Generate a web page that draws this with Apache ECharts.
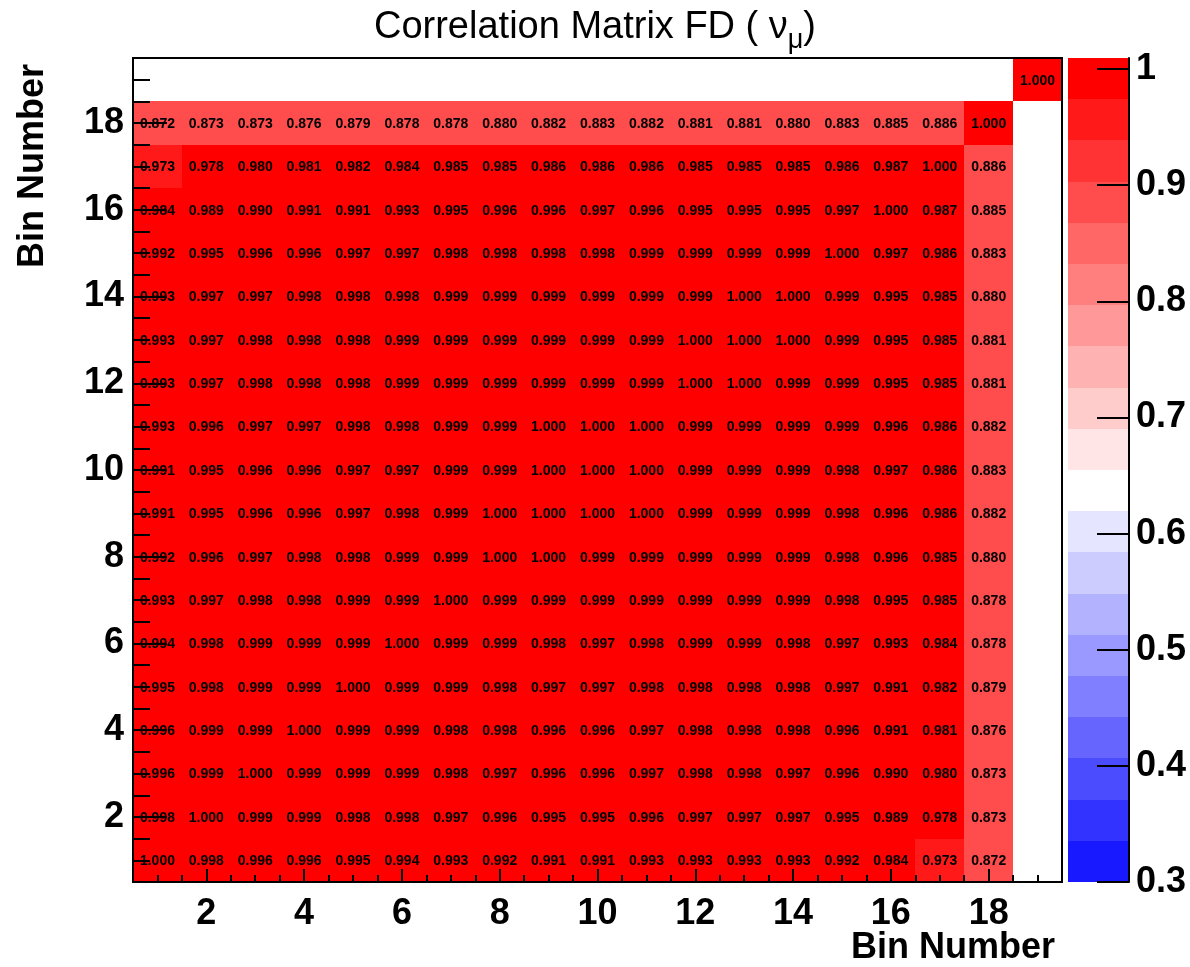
<!DOCTYPE html>
<html>
<head>
<meta charset="utf-8">
<title>Correlation Matrix FD</title>
<script src="https://cdn.jsdelivr.net/npm/echarts@6/dist/echarts.min.js"></script>
<style>
  html, body { margin: 0; padding: 0; background: #ffffff; }
  #chart { width: 1190px; height: 967px; }
</style>
</head>
<body>
<div id="chart"></div>
<script>
// Bin numbers along both axes
const bins = [1, 2, 3, 4, 5, 6, 7, 8, 9, 10, 11, 12, 13, 14, 15, 16, 17, 18, 19];

// Correlation coefficients, one array per y bin (bin 1 at the bottom); null = empty cell
const row01 = [1.000, 0.998, 0.996, 0.996, 0.995, 0.994, 0.993, 0.992, 0.991, 0.991, 0.993, 0.993, 0.993, 0.993, 0.992, 0.984, 0.973, 0.872, null];
const row02 = [0.998, 1.000, 0.999, 0.999, 0.998, 0.998, 0.997, 0.996, 0.995, 0.995, 0.996, 0.997, 0.997, 0.997, 0.995, 0.989, 0.978, 0.873, null];
const row03 = [0.996, 0.999, 1.000, 0.999, 0.999, 0.999, 0.998, 0.997, 0.996, 0.996, 0.997, 0.998, 0.998, 0.997, 0.996, 0.990, 0.980, 0.873, null];
const row04 = [0.996, 0.999, 0.999, 1.000, 0.999, 0.999, 0.998, 0.998, 0.996, 0.996, 0.997, 0.998, 0.998, 0.998, 0.996, 0.991, 0.981, 0.876, null];
const row05 = [0.995, 0.998, 0.999, 0.999, 1.000, 0.999, 0.999, 0.998, 0.997, 0.997, 0.998, 0.998, 0.998, 0.998, 0.997, 0.991, 0.982, 0.879, null];
const row06 = [0.994, 0.998, 0.999, 0.999, 0.999, 1.000, 0.999, 0.999, 0.998, 0.997, 0.998, 0.999, 0.999, 0.998, 0.997, 0.993, 0.984, 0.878, null];
const row07 = [0.993, 0.997, 0.998, 0.998, 0.999, 0.999, 1.000, 0.999, 0.999, 0.999, 0.999, 0.999, 0.999, 0.999, 0.998, 0.995, 0.985, 0.878, null];
const row08 = [0.992, 0.996, 0.997, 0.998, 0.998, 0.999, 0.999, 1.000, 1.000, 0.999, 0.999, 0.999, 0.999, 0.999, 0.998, 0.996, 0.985, 0.880, null];
const row09 = [0.991, 0.995, 0.996, 0.996, 0.997, 0.998, 0.999, 1.000, 1.000, 1.000, 1.000, 0.999, 0.999, 0.999, 0.998, 0.996, 0.986, 0.882, null];
const row10 = [0.991, 0.995, 0.996, 0.996, 0.997, 0.997, 0.999, 0.999, 1.000, 1.000, 1.000, 0.999, 0.999, 0.999, 0.998, 0.997, 0.986, 0.883, null];
const row11 = [0.993, 0.996, 0.997, 0.997, 0.998, 0.998, 0.999, 0.999, 1.000, 1.000, 1.000, 0.999, 0.999, 0.999, 0.999, 0.996, 0.986, 0.882, null];
const row12 = [0.993, 0.997, 0.998, 0.998, 0.998, 0.999, 0.999, 0.999, 0.999, 0.999, 0.999, 1.000, 1.000, 0.999, 0.999, 0.995, 0.985, 0.881, null];
const row13 = [0.993, 0.997, 0.998, 0.998, 0.998, 0.999, 0.999, 0.999, 0.999, 0.999, 0.999, 1.000, 1.000, 1.000, 0.999, 0.995, 0.985, 0.881, null];
const row14 = [0.993, 0.997, 0.997, 0.998, 0.998, 0.998, 0.999, 0.999, 0.999, 0.999, 0.999, 0.999, 1.000, 1.000, 0.999, 0.995, 0.985, 0.880, null];
const row15 = [0.992, 0.995, 0.996, 0.996, 0.997, 0.997, 0.998, 0.998, 0.998, 0.998, 0.999, 0.999, 0.999, 0.999, 1.000, 0.997, 0.986, 0.883, null];
const row16 = [0.984, 0.989, 0.990, 0.991, 0.991, 0.993, 0.995, 0.996, 0.996, 0.997, 0.996, 0.995, 0.995, 0.995, 0.997, 1.000, 0.987, 0.885, null];
const row17 = [0.973, 0.978, 0.980, 0.981, 0.982, 0.984, 0.985, 0.985, 0.986, 0.986, 0.986, 0.985, 0.985, 0.985, 0.986, 0.987, 1.000, 0.886, null];
const row18 = [0.872, 0.873, 0.873, 0.876, 0.879, 0.878, 0.878, 0.880, 0.882, 0.883, 0.882, 0.881, 0.881, 0.880, 0.883, 0.885, 0.886, 1.000, null];
const row19 = [null, null, null, null, null, null, null, null, null, null, null, null, null, null, null, null, null, null, 1.000];
const rows = [row01, row02, row03, row04, row05, row06, row07, row08, row09, row10,
              row11, row12, row13, row14, row15, row16, row17, row18, row19];

// Axis tick labels
const binTickLabels = [2, 4, 6, 8, 10, 12, 14, 16, 18];
const colorTickLabels = [0.3, 0.4, 0.5, 0.6, 0.7, 0.8, 0.9, 1];

// Colour scale: range and 20 contour colours, lowest first
const zMin = 0.3;
const zMax = 1.0095;
const palette = [
  '#1919ff', '#3333ff', '#4c4cff', '#6666ff', '#7f7fff', '#9999ff', '#b2b2ff', '#ccccff', '#e5e5ff',
  '#ffffff',
  '#ffe5e5', '#ffcccc', '#ffb2b2', '#ff9999', '#ff7f7f', '#ff6666', '#ff4c4c', '#ff3333', '#ff1919', '#ff0000'
];

// ---- derived structures ----
const FONT = '"Liberation Sans", Arial, Helvetica, sans-serif';
const nBands = palette.length;
const bandWidth = (zMax - zMin) / nBands;
const bands = palette.map((c, i) => [zMin + i * bandWidth, zMin + (i + 1) * bandWidth, i]);
const pieces = bands.map(([lo, hi, i]) =>
  i === nBands - 1 ? { gte: lo, lte: hi, color: palette[i] } : { gte: lo, lt: hi, color: palette[i] });

const cells = [];
rows.forEach((r, yi) => r.forEach((v, xi) => {
  if (v !== null) cells.push([bins[xi], bins[yi], v]);
}));

const lo = bins[0] - 0.5, hi = bins[bins.length - 1] + 0.5;
const halfSteps = [];
for (let k = 0; k <= (hi - lo) * 2; k++) halfSteps.push(lo + k * 0.5);

const labelStyle = { fontFamily: FONT, fontSize: 36, fontWeight: 'bold', color: '#000' };
const blackLine = { color: '#000', width: 2 };

// Cell rectangle snapped to whole pixels so neighbouring cells meet without seams
function renderCell(params, api) {
  const x = api.value(0), y = api.value(1), v = api.value(2);
  const p0 = api.coord([x - 0.5, y + 0.5]);
  const p1 = api.coord([x + 0.5, y - 0.5]);
  const x0 = Math.round(p0[0]), y0 = Math.round(p0[1]);
  const x1 = Math.round(p1[0]), y1 = Math.round(p1[1]);
  return {
    type: 'group',
    children: [
      {
        type: 'rect',
        shape: { x: x0, y: y0, width: x1 - x0, height: y1 - y0 },
        style: { fill: api.visual('color') }
      },
      {
        type: 'text',
        x: (p0[0] + p1[0]) / 2,
        y: (p0[1] + p1[1]) / 2 + 1,
        z2: 5,
        style: {
          text: v.toFixed(3), align: 'center', verticalAlign: 'middle',
          fontFamily: FONT, fontSize: 14, fontWeight: 'bold', fill: '#000'
        }
      }
    ]
  };
}

function renderBand(params, api) {
  const p0 = api.coord([0, api.value(1)]);
  const p1 = api.coord([1, api.value(0)]);
  const y0 = Math.round(p0[1]), y1 = Math.round(p1[1]);
  return {
    type: 'rect',
    shape: { x: p0[0], y: y0, width: p1[0] - p0[0], height: y1 - y0 },
    style: { fill: palette[api.value(2)] }
  };
}

const chart = echarts.init(document.getElementById('chart'), null, { renderer: 'canvas' });

chart.setOption({
  animation: false,
  backgroundColor: '#ffffff',
  title: {
    left: 'center',
    top: 0,
    text: '{a|Correlation Matrix FD ( ν}{s|μ}{a|)}',
    textStyle: {
      fontWeight: 'normal',
      rich: {
        a: { fontFamily: FONT, fontSize: 38, fontWeight: 'normal', color: '#000', lineHeight: 46, verticalAlign: 'middle' },
        s: { fontFamily: FONT, fontSize: 27, fontWeight: 'normal', color: '#000', lineHeight: 27, verticalAlign: 'bottom', padding: [0, 0, -3, 0] }
      }
    }
  },
  grid: [
    { left: 133, top: 58, width: 929, height: 824, show: true, borderColor: '#000', borderWidth: 2,
      backgroundColor: 'transparent', z: 10 },
    { left: 1068, top: 58, width: 61, height: 824 }
  ],
  visualMap: {
    type: 'piecewise',
    show: false,
    seriesIndex: 0,
    dimension: 2,
    pieces: pieces
  },
  xAxis: [
    {
      gridIndex: 0, type: 'value', min: lo, max: hi, position: 'bottom', z: 10,
      axisLine: { show: true, onZero: false, lineStyle: blackLine },
      axisTick: { show: true, inside: true, length: 7, lineStyle: blackLine, customValues: halfSteps },
      axisLabel: Object.assign({ customValues: binTickLabels, margin: 14 }, labelStyle),
      splitLine: { show: false }
    },
    {
      gridIndex: 0, type: 'value', min: lo, max: hi, position: 'bottom', z: 10,
      axisLine: { show: false },
      axisTick: { show: true, inside: true, length: 13, lineStyle: blackLine, customValues: binTickLabels },
      axisLabel: { show: false },
      splitLine: { show: false }
    },
    { gridIndex: 1, type: 'value', min: 0, max: 1, show: false }
  ],
  yAxis: [
    {
      gridIndex: 0, type: 'value', min: lo, max: hi, position: 'left', z: 10,
      axisLine: { show: true, onZero: false, lineStyle: blackLine },
      axisTick: { show: true, inside: true, length: 17, lineStyle: blackLine, customValues: halfSteps },
      axisLabel: Object.assign({ customValues: binTickLabels, margin: 9 }, labelStyle),
      splitLine: { show: false }
    },
    {
      gridIndex: 0, type: 'value', min: lo, max: hi, position: 'left', z: 10,
      axisLine: { show: false },
      axisTick: { show: true, inside: true, length: 34, lineStyle: blackLine, customValues: binTickLabels },
      axisLabel: { show: false },
      splitLine: { show: false }
    },
    {
      gridIndex: 1, type: 'value', min: zMin, max: zMax, position: 'right', z: 10,
      axisLine: { show: true, onZero: false, lineStyle: blackLine },
      axisTick: { show: true, inside: true, length: 32, lineStyle: blackLine, customValues: colorTickLabels },
      axisLabel: Object.assign({
        customValues: colorTickLabels, margin: 7,
        formatter: v => String(Math.round(v * 10) / 10)
      }, labelStyle),
      splitLine: { show: false }
    }
  ],
  series: [
    {
      name: 'correlation',
      type: 'custom',
      xAxisIndex: 0, yAxisIndex: 0,
      renderItem: renderCell,
      data: cells,
      clip: true
    },
    {
      name: 'scale',
      type: 'custom',
      xAxisIndex: 2, yAxisIndex: 2,
      renderItem: renderBand,
      data: bands
    }
  ],
  graphic: [
    {
      type: 'text', x: 1055, y: 948, z: 20,
      style: { text: 'Bin Number', align: 'right', verticalAlign: 'middle',
               fontFamily: FONT, fontSize: 36, fontWeight: 'bold', fill: '#000' }
    },
    {
      type: 'text', x: 33, y: 64, rotation: Math.PI / 2, z: 20,
      style: { text: 'Bin Number', align: 'right', verticalAlign: 'middle',
               fontFamily: FONT, fontSize: 36, fontWeight: 'bold', fill: '#000' }
    }
  ]
});
</script>
</body>
</html>
